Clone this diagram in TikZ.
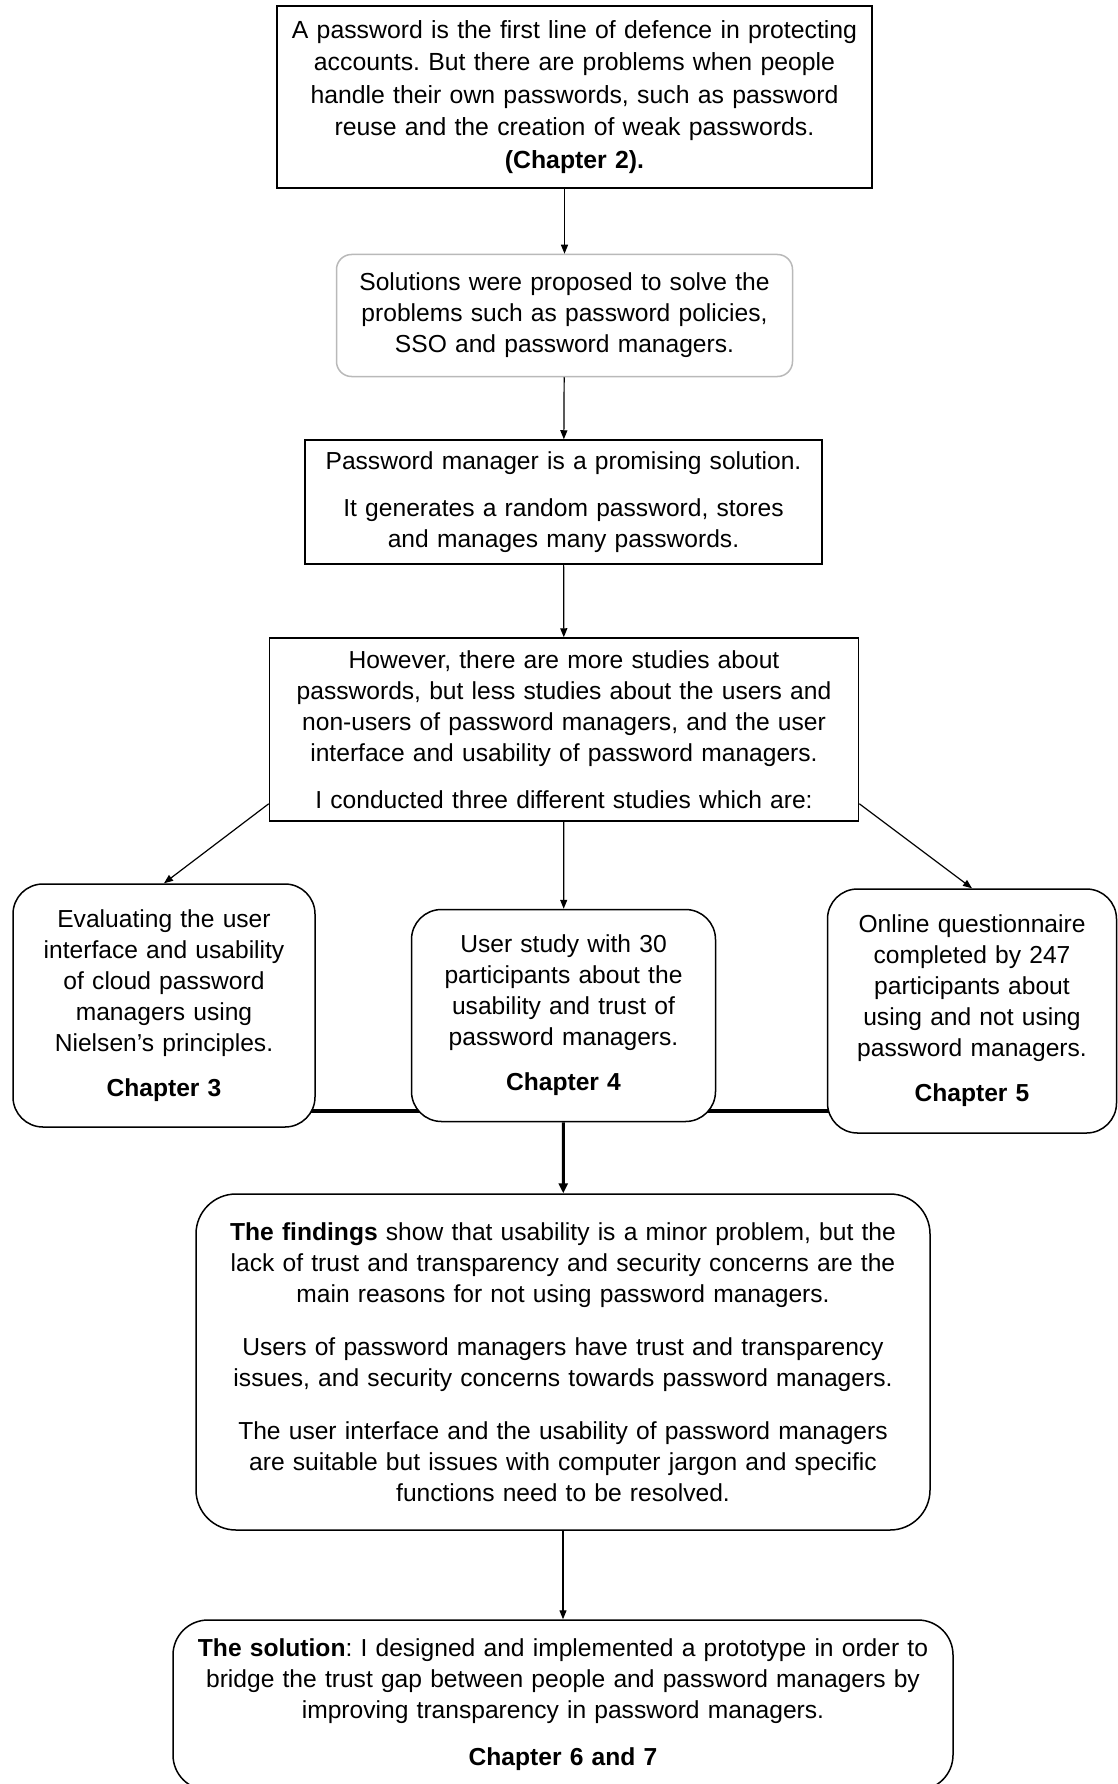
\documentclass[tikz,border=0pt]{standalone}
\usepackage{fontspec}
\setmainfont{Liberation Sans}
\usetikzlibrary{arrows.meta,backgrounds}
\definecolor{softgray}{RGB}{185,185,185}
\frenchspacing
\begin{document}
\begin{tikzpicture}[x=1pt,y=-1pt,
    txt/.style={font=\fontsize{24.6}{31}\selectfont, align=center, inner sep=0pt},
    plain/.style={txt, draw, line width=1.5pt, fill=white},
    soft/.style={txt, draw=softgray, line width=1.5pt, rounded corners=15pt, fill=white},
    round/.style={plain, rounded corners=30pt},
    arr/.style={-{Triangle[length=9pt,width=7pt]}, line width=1.2pt},
    bar/.style={line width=3.5pt}]
    \useasboundingbox (0,0) rectangle (1118,1784);
    % main column
    \node[plain, minimum width=595pt, minimum height=182pt, text width=589pt,
        font=\fontsize{24.8}{32.5}\selectfont] (intro) at (574.5,97)
        {A password is the first line of defence in protecting\\
         accounts. But there are problems when people\\
         handle their own passwords, such as password\\
         reuse and the creation of weak passwords.\\
         \textbf{(Chapter 2).}};
    \node[soft, minimum width=456pt, minimum height=122pt, text width=450pt] (fixes) at (564.5,315.5)
        {Solutions were proposed to solve the\\
         problems such as password policies,\\
         SSO and password managers.};
    \node[plain, minimum width=517pt, minimum height=124pt, text width=511pt] (pm) at (563.5,502)
        {Password manager is a promising solution.\\[16pt]
         It generates a random password, stores\\
         and manages many passwords.};
    \node[plain, minimum width=589pt, minimum height=183pt, text width=583pt] (gap) at (564,729.5)
        {However, there are more studies about\\
         passwords, but less studies about the users and\\
         non-users of password managers, and the user\\
         interface and usability of password managers.\\[16pt]
         I conducted three different studies which are:};
    % the three studies
    \node[round, minimum width=302pt, minimum height=243pt, text width=296pt] (ch3) at (164,1005.5)
        {Evaluating the user\\ interface and usability\\ of cloud password\\
         managers using\\ Nielsen’s principles.\\[14pt] \textbf{Chapter 3}};
    \node[round, minimum width=304pt, minimum height=212pt, text width=298pt] (ch4) at (563.5,1015.5)
        {User study with 30\\ participants about the\\ usability and trust of\\
         password managers.\\[14pt] \textbf{Chapter 4}};
    \node[round, minimum width=289pt, minimum height=244pt, text width=283pt] (ch5) at (972,1011)
        {Online questionnaire\\ completed by 247\\ participants about\\
         using and not using\\ password managers.\\[14pt] \textbf{Chapter 5}};
    % results
    \node[plain, rounded corners=40pt, minimum width=734pt, minimum height=336pt, text width=726pt] (findings) at (563,1362)
        {\textbf{The findings} show that usability is a minor problem, but the\\
         lack of trust and transparency and security concerns are the\\
         main reasons for not using password managers.\\[22pt]
         Users of password managers have trust and transparency\\
         issues, and security concerns towards password managers.\\[22pt]
         The user interface and the usability of password managers\\
         are suitable but issues with computer jargon and specific\\
         functions need to be resolved.};
    \node[plain, rounded corners=35pt, minimum width=780pt, minimum height=170pt, text width=774pt] (solution) at (563,1705)
        {\textbf{The solution}: I designed and implemented a prototype in order to\\
         bridge the trust gap between people and password managers by\\
         improving transparency in password managers.\\[16pt]
         \textbf{Chapter 6 and 7}};
    \draw[arr] (intro.south -| fixes.north) -- (fixes.north);
    \draw[arr] (fixes) -- (pm);
    \draw[arr] (pm) -- (gap);
    \draw[arr] ([yshift=18pt]gap.south west) -- (ch3.north);
    \draw[arr] (gap) -- (ch4);
    \draw[arr] ([yshift=18pt]gap.south east) -- (ch5.north);
    \begin{scope}[on background layer]
        \draw[bar] (ch3.center |- 0,1111) -- (ch5.center |- 0,1111);
    \end{scope}
    \draw[arr, line width=3pt, -{Triangle[length=10pt,width=9pt]}] (ch4) -- (findings);
    \draw[arr] (findings) -- (solution);
\end{tikzpicture}
\end{document}
